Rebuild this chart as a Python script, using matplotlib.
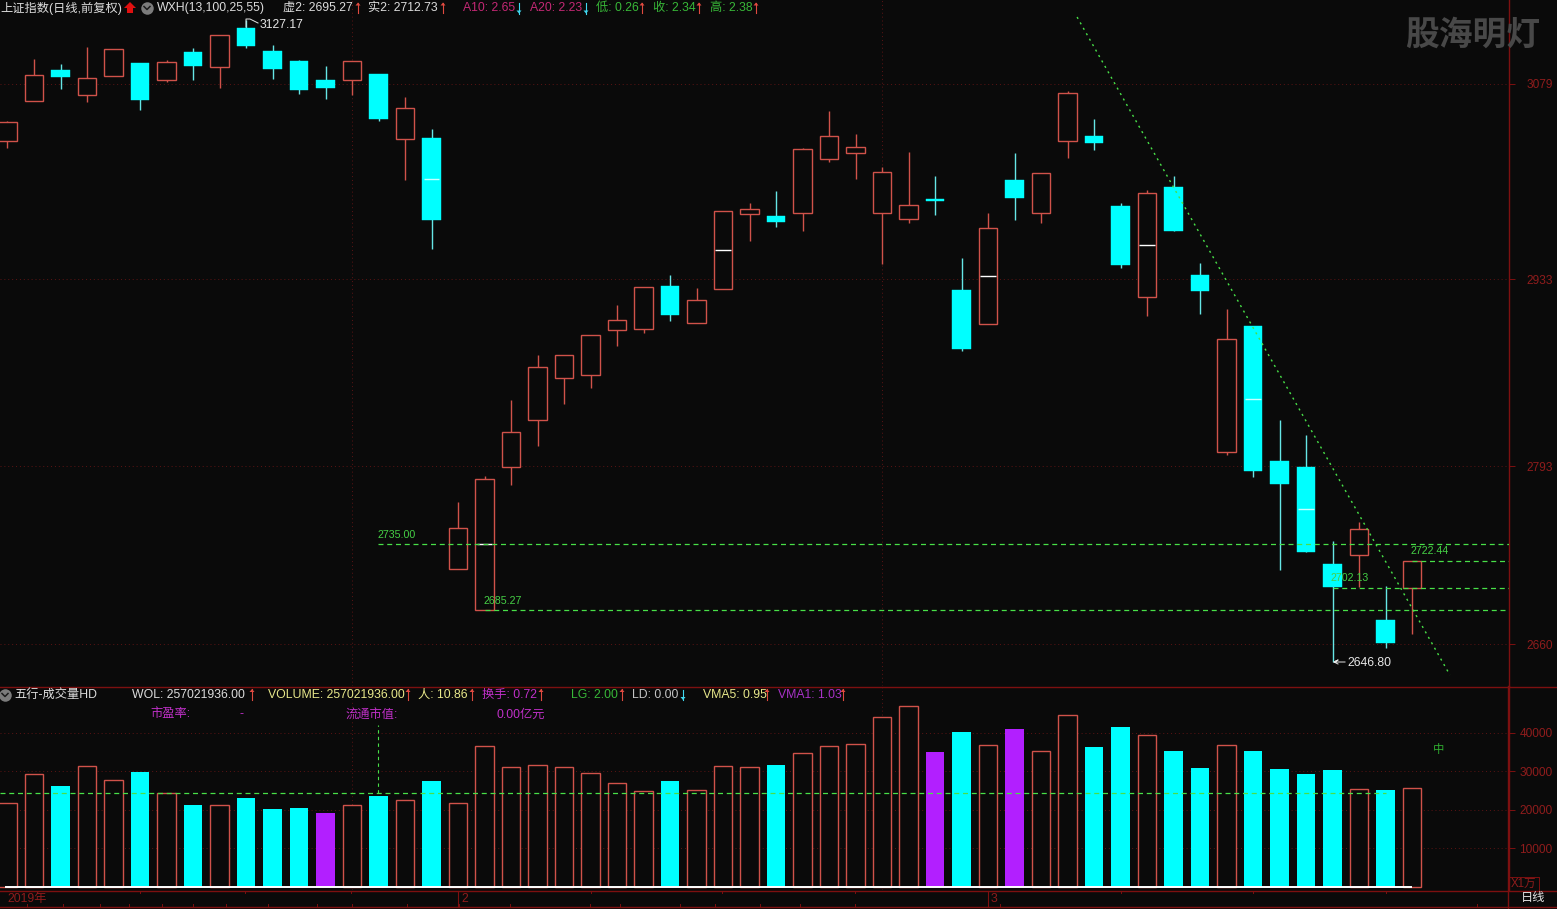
"""Shanghai index daily candles with a volume pane, dark terminal style."""
import numpy as np
import matplotlib
matplotlib.use('Agg')
import matplotlib.pyplot as plt

plt.rcParams['font.family'] = ['Liberation Sans', 'Noto Sans CJK SC', 'DejaVu Sans']

# price data, one entry per session
opens = [3036.3, 3066.3, 3089.5, 3070.8, 3085.0, 3094.7, 3082.0, 3103.0, 3091.7, 3120.9, 3103.7, 3096.2, 3082.0, 3082.0,
         3086.5, 3037.8, 3038.6, 2716.1, 2685.27, 2792.4, 2827.6, 2859.0, 2861.3, 2894.9, 2895.7, 2927.8, 2900.2, 2925.6,
         2981.7, 2980.2, 2982.5, 3022.9, 3027.4, 2982.5, 2978.0, 2992.9, 2924.8, 2899.4, 3007.2, 2982.5, 3036.3, 3040.1,
         2987.7, 2919.6, 3001.9, 2936.1, 2803.7, 2897.9, 2797.0, 2792.4, 2719.8, 2726.6, 2678.0, 2702.13]
closes = [3050.6, 3085.7, 3084.2, 3083.5, 3105.2, 3067.0, 3095.4, 3092.5, 3115.6, 3107.4, 3090.2, 3074.5, 3076.0, 3096.2,
          3052.8, 3061.0, 2977.2, 2746.8, 2783.5, 2818.6, 2867.2, 2876.2, 2891.2, 2902.4, 2927.1, 2906.1, 2917.4, 2984.0,
          2985.5, 2975.7, 3030.3, 3040.1, 3031.8, 3013.1, 2988.5, 2991.5, 2880.7, 2971.2, 2993.7, 3012.4, 3072.3, 3034.8,
          2943.6, 2997.4, 2969.0, 2924.1, 2888.2, 2789.4, 2779.7, 2728.8, 2702.6, 2746.0, 2660.7, 2722.44]
highs = [3051.3, 3097.7, 3093.9, 3106.7, 3105.2, 3094.7, 3096.9, 3105.9, 3115.6, 3127.17, 3108.2, 3096.9, 3092.5, 3096.2,
         3086.5, 3069.3, 3045.3, 2766.2, 2785.7, 2842.6, 2876.2, 2876.2, 2891.2, 2913.6, 2927.1, 2936.1, 2926.3, 2984.0,
         2990.0, 2998.9, 3031.1, 3058.8, 3041.6, 3016.9, 3028.1, 3010.2, 2948.8, 2982.5, 3027.4, 3012.4, 3073.8, 3052.8,
         2990.0, 2999.7, 3010.2, 2945.1, 2910.6, 2897.9, 2827.6, 2816.4, 2737.1, 2751.3, 2703.4, 2722.44]
lows = [3031.1, 3066.3, 3075.2, 3065.5, 3085.0, 3059.5, 3080.5, 3082.0, 3076.0, 3106.0, 3082.7, 3071.5, 3067.8, 3070.8,
        3051.3, 3007.2, 2955.5, 2716.1, 2685.27, 2779.0, 2808.1, 2839.6, 2851.5, 2883.0, 2892.7, 2901.7, 2900.2, 2925.6,
        2961.5, 2972.0, 2969.0, 3020.6, 3007.9, 2944.3, 2975.0, 2981.0, 2879.2, 2899.4, 2977.2, 2975.0, 3023.6, 3029.6,
        2941.3, 2905.4, 2969.0, 2906.9, 2801.4, 2785.0, 2715.4, 2728.8, 2646.80, 2702.6, 2657.0, 2667.5]
volumes = [21810, 29350, 26230, 31420, 27790, 29870, 24410, 21300, 21300, 23110, 20260, 20520, 19220, 21300,
           23630, 22590, 27530, 21810, 36620, 31160, 31680, 31160, 29610, 27010, 24930, 27530, 25190, 31420,
           31160, 31680, 34800, 36620, 37140, 44150, 47010, 35060, 40250, 36880, 41030, 35320, 44670, 36360,
           41550, 39470, 35320, 30900, 36880, 35320, 30650, 29350, 30390, 25450, 25190, 25710]
purple_sessions = [12, 35, 38]
mid_sessions = [16, 18, 27, 37, 43, 47, 49]
mid_prices = [3007.9, 2734.8, 2954.8, 2935.3, 2958.5, 2843.3, 2761.0]

price_ticks = [2660, 2793, 2933, 3079]
volume_ticks = [10000, 20000, 30000, 40000]
level_values = [2735.00, 2685.27, 2722.44, 2702.13]
level_starts = [13.98, 18, 53, 50]
trend_sessions = [40.36, 54.43]
trend_prices = [3129.1, 2636.8]
volume_ma = 24400
divider_sessions = [13, 33]

BG = '#0a0a0a'
RED = '#d0524a'
CYAN = '#00ffff'
WICK_CYAN = '#66e6e6'
PURPLE = '#b21fff'
GREEN = '#48e048'
GRID = '#5c1414'
AXIS = '#7d1010'
AXIS_TEXT = '#8f1c1c'
W, H = 1557, 909

fig = plt.figure(figsize=(W / 100, H / 100), dpi=100, facecolor=BG)
ax = fig.add_axes([0, (H - 686) / H, 1508.5 / W, 686 / H], facecolor=BG)
vol = fig.add_axes([0, (H - 890) / H, 1508.5 / W, 204 / H], facecolor=BG)
over = fig.add_axes([0, 0, 1, 1], zorder=10)
over.patch.set_alpha(0)
over.axis('off')

xs = np.arange(len(opens))
o = np.array(opens)
c = np.array(closes)
up = c >= o
body_w = 0.70

for a in (ax, vol):
    a.set_xlim(-0.283, 56.64)
    a.set_xticks([])
    for side in ('top', 'left', 'bottom'):
        a.spines[side].set_visible(False)
    a.spines['right'].set_color(AXIS)
    a.spines['right'].set_linewidth(1.0)
    a.yaxis.tick_right()
    a.grid(axis='y', linestyle=(0, (1, 3)), linewidth=0.7, color=GRID)
    a.set_axisbelow(True)
    for s in divider_sessions:
        a.axvline(s, linestyle=(0, (1, 3)), linewidth=0.7, color=GRID, zorder=0.5)

ax.set_ylim(2628.6, 3141.84)
ax.set_yticks(price_ticks)
ax.tick_params(axis='y', length=4.3, width=0.7, color=AXIS, labelcolor=AXIS_TEXT, labelsize=8.6, pad=8.5)

# candles: wicks first, hollow red bodies cover them
ax.vlines(xs[up], np.array(lows)[up], np.array(highs)[up], color=RED, linewidth=1.0, zorder=2)
ax.vlines(xs[~up], np.array(lows)[~up], np.array(highs)[~up], color=WICK_CYAN, linewidth=1.0, zorder=2)
ax.bar(xs[up], (c - o)[up], bottom=o[up], width=body_w, facecolor=BG, edgecolor=RED, linewidth=1.0, zorder=3)
ax.bar(xs[~up], (o - c)[~up], bottom=c[~up], width=body_w, facecolor=CYAN, edgecolor=CYAN, linewidth=0.3, zorder=3)
for s, p in zip(mid_sessions, mid_prices):
    ax.hlines(p, s - 0.29, s + 0.29, color='white' if up[s] else '#c8ffff', linewidth=1.0, zorder=4)

for value, start in zip(level_values, level_starts):
    ax.hlines(value, start, 56.64, color=GREEN, linewidth=0.9, linestyle=(0, (4, 3)), zorder=5)
ax.plot(trend_sessions, trend_prices, color=GREEN, linewidth=1.0, linestyle=(0, (1.5, 3)), zorder=5)

# volume pane
vol.set_ylim(-779, 52200)
vol.set_yticks(volume_ticks)
vol.tick_params(axis='y', length=4.3, width=0.7, color=AXIS, labelcolor=AXIS_TEXT, labelsize=8.6, pad=3.6)
v = np.array(volumes)
purple = np.isin(xs, purple_sessions)
cyan_bar = ~up & ~purple
vol.bar(xs[up & ~purple], v[up & ~purple], width=body_w, facecolor=BG, edgecolor=RED, linewidth=1.0, zorder=3)
vol.bar(xs[cyan_bar], v[cyan_bar], width=body_w, color=CYAN, zorder=3)
vol.bar(xs[purple], v[purple], width=body_w, color=PURPLE, zorder=3)
vol.hlines(0, -0.1, 53, color='white', linewidth=1.4, zorder=4)
vol.hlines(volume_ma, -0.283, 52, color=GREEN, linewidth=0.9, linestyle=(0, (4, 3)), zorder=5)
vol.vlines(13.98, volume_ma, 42000, color=GREEN, linewidth=0.8, linestyle=(0, (3, 3)), zorder=5)


def label(x, y, s, color, size=8.8, ha='left', **kw):
    over.text(x, y, s, color=color, fontsize=size, ha=ha, va='center', **kw)


def arrow(x, y, color, rising=True):
    tip, tail = (y - 5.5, y + 5) if rising else (y + 5.5, y - 5)
    back = tip + 3 if rising else tip - 3
    over.plot([x, x], [tip, tail], color=color, lw=0.8)
    over.fill([x - 2.5, x + 2.5, x], [back, back, tip], color=color, lw=0)


def header(items, y):
    # items: left edge, text, colour, arrow x, rising
    for x, s, color, arrow_x, rising in items:
        label(x, y, s, color)
        if arrow_x:
            arrow(arrow_x, y, UP_ARROW if rising else DOWN_ARROW, rising)


UP_ARROW = '#e04a40'
DOWN_ARROW = '#40d8f0'
TEXT = '#dcdcdc'
YELLOW = '#e8e88a'
MAGENTA = '#c030c8'
ROSE = '#c42874'
LABEL_GREEN = '#38b838'

header([(0, '上证指数(日线,前复权)', TEXT, 0, True),
        (157, 'WXH(13,100,25,55)', TEXT, 0, True),
        (283, '虚2: 2695.27', TEXT, 358, True),
        (368, '实2: 2712.73', TEXT, 443, True),
        (463, 'A10: 2.65', ROSE, 519, False),
        (530, 'A20: 2.23', ROSE, 586, False),
        (596, '低: 0.26', LABEL_GREEN, 642, True),
        (653, '收: 2.34', LABEL_GREEN, 699, True),
        (710, '高: 2.38', LABEL_GREEN, 756, True)], 8)
header([(14, '五行-成交量HD', TEXT, 0, True),
        (132, 'WOL: 257021936.00', TEXT, 252, True),
        (268, 'VOLUME: 257021936.00', YELLOW, 408, True),
        (418, '人: 10.86', YELLOW, 472, True),
        (482, '换手: 0.72', MAGENTA, 541, True),
        (571, 'LG: 2.00', LABEL_GREEN, 622, True),
        (632, 'LD: 0.00', '#c4c4c4', 683, False),
        (703, 'VMA5: 0.95', YELLOW, 767, True),
        (778, 'VMA1: 1.03', '#a832c8', 843, True)], 694.5)
label(150, 714.5, '市盈率:', MAGENTA)
label(240, 714.5, '-', MAGENTA)
label(346, 714.5, '流通市值:', MAGENTA)
label(497, 714.5, '0.00亿元', MAGENTA)

# header glyphs
over.fill([130, 136, 133, 133, 127, 127, 124], [2, 8, 8, 13, 13, 8, 8], color='#e01010', lw=0)
for cx, cy in [(147, 7.5), (5, 694.5)]:
    over.plot(cx, cy, 'o', ms=9, color='#7c7c7c', mec='none')
    over.plot([cx - 3, cx, cx + 3], [cy - 1, cy + 2, cy - 1], color='#1c1c1c', lw=1.1)

# extreme price flags and level captions
label(260, 25, '3127.17', '#e6e6e6')
over.plot([246, 246, 250, 258], [27, 19, 19, 23], color='#e6e6e6', lw=0.7)
label(1347, 662.5, '2646.80', '#e6e6e6')
over.plot([1345, 1334, 1338, 1334, 1338], [662, 662, 660, 662, 664], color='#e6e6e6', lw=0.7)
label(378, 534.5, '2735.00', '#45d045', size=7.7)
label(484, 601.5, '2685.27', '#45d045', size=7.7)
label(1411, 551, '2722.44', '#45d045', size=7.7)
label(1331, 578, '2702.13', '#45d045', size=7.7)
label(1439, 750, '中', '#2fae2f', size=8.2, ha='center')

label(1473, 35.5, '股海明灯', '#484848', size=24.3, ha='center', fontweight='bold')

# frame lines and date band
over.plot([0, W], [686.5, 686.5], color=AXIS, lw=1.0)
over.plot([0, W], [890.5, 890.5], color=AXIS, lw=1.0)
over.plot([0, W], [907, 907], color=AXIS, lw=1.0)
over.plot([1508.5, 1508.5], [686, H], color=AXIS, lw=1.0)
for x in [140, 245, 351, 591, 722, 855, 1121, 1253, 1386]:
    over.plot([x, x], [890.5, 893], color=AXIS, lw=0.7)
for x in [27, 63, 100, 129, 162, 193, 226, 268, 317, 352, 407, 459, 510, 590, 620, 680, 715, 760, 800, 855, 1000, 1477]:
    over.plot([x, x], [904, 907], color=AXIS, lw=0.7)
for x in [458, 988]:
    over.plot([x, x], [890.5, 907], color=AXIS, lw=0.8)
label(7, 899, '2019年', AXIS_TEXT)
label(461, 899, '2', AXIS_TEXT)
label(991, 899, '3', AXIS_TEXT)
label(1533, 898, '日线', '#e4e4e4', ha='center')
label(1511, 883.5, 'X1万', AXIS_TEXT, size=8.3)
over.plot([1509, 1539, 1539], [877, 877, 890], color=AXIS, lw=0.7)

over.set_xlim(0, W)
over.set_ylim(H, 0)
fig.savefig('out.png', dpi=100, facecolor=BG)
